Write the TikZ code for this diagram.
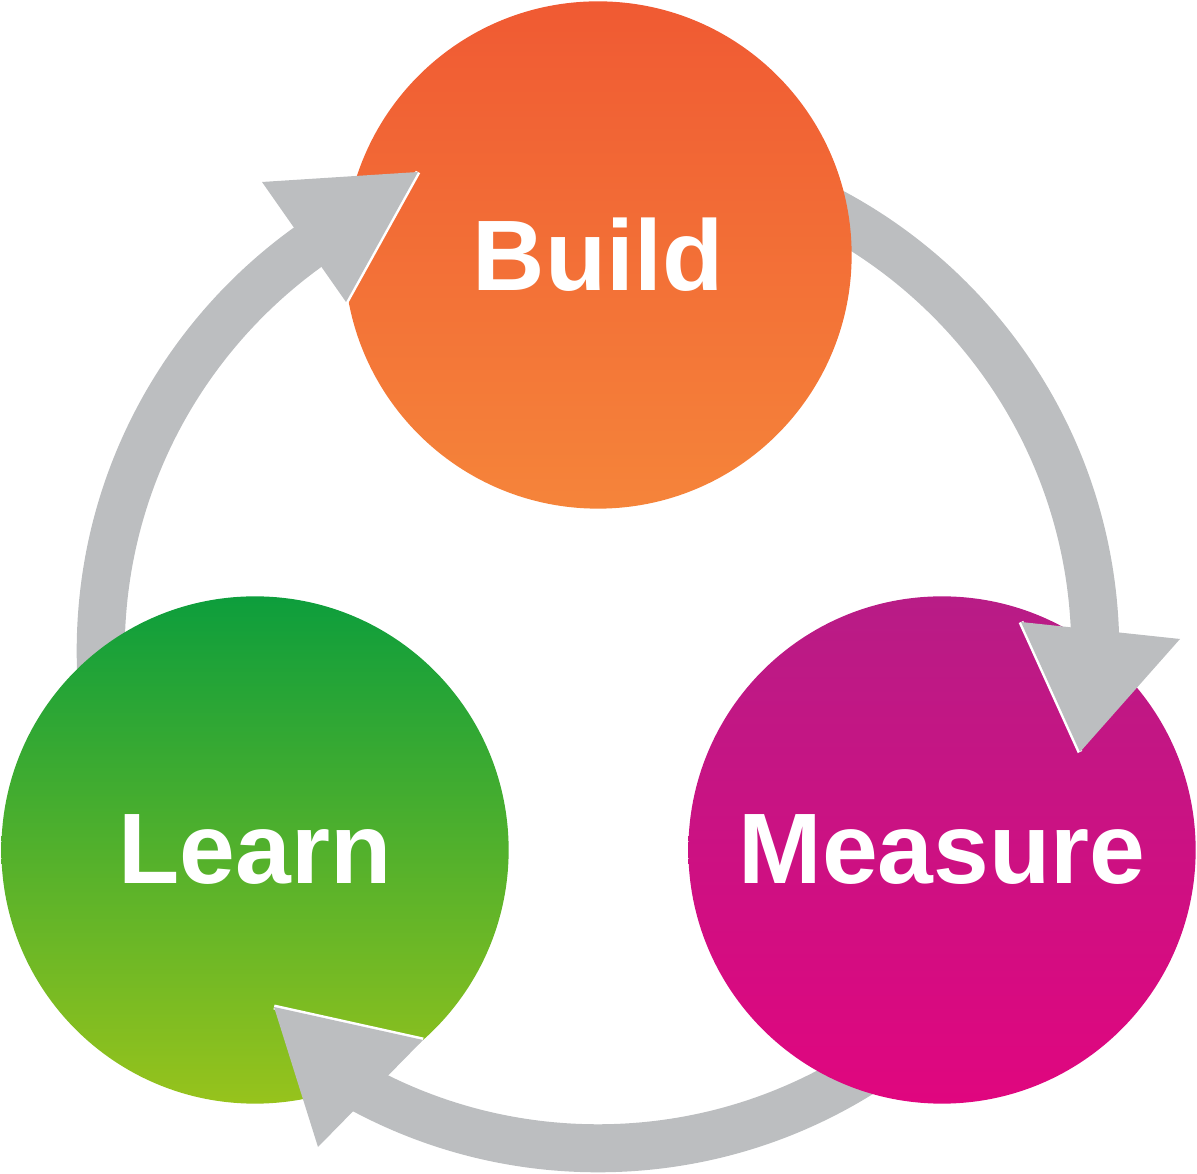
\documentclass[tikz,border=0pt]{standalone}
\usepackage{fontspec}
\setmainfont{Liberation Sans}
\usepackage{tikz}
\usetikzlibrary{positioning}
\definecolor{Ring}{HTML}{BCBEC0}
\definecolor{BuildTop}{HTML}{F05A33}
\definecolor{BuildBot}{HTML}{F5843A}
\definecolor{MeasTop}{HTML}{B81C86}
\definecolor{MeasBot}{HTML}{E0067F}
\definecolor{LearnTop}{HTML}{0D9E3C}
\definecolor{LearnBot}{HTML}{97C31C}

\begin{document}
\begin{tikzpicture}[x=0.01cm,y=-0.01cm,
    stage/.style={circle,minimum size=5.07cm,inner sep=0pt,text=white,
      font=\bfseries\fontsize{28.5}{34}\selectfont},
    ring/.style={draw=Ring,line width=0.48cm}]
        \useasboundingbox (0,0) rectangle (1197,1174);
        \coordinate (hub) at (598,651);
        % the loop behind the three stages
        \draw[ring] (hub) circle [radius=4.97cm];
        \node[stage,top color=BuildTop,bottom color=BuildBot] (build) at (598,255) {Build};
        \node[stage,top color=MeasTop,bottom color=MeasBot] (measure) at (942,850) {Measure};
        \node[stage,top color=LearnTop,bottom color=LearnBot] (learn) at (255,850) {Learn};
        % arrow heads
        \draw[white,line width=0.05cm] (418,172)--(346,302);
        \fill[Ring] (418,172)--(346,302)--(262,182)--cycle;
        \draw[white,line width=0.05cm] (1021,622)--(1080,752);
        \fill[Ring] (1080,752)--(1021,622)--(1180,639)--cycle;
        \draw[white,line width=0.05cm] (274,1007)--(423,1040);
        \fill[Ring] (274,1007)--(423,1040)--(318,1147)--cycle;
      \end{tikzpicture}
\end{document}
